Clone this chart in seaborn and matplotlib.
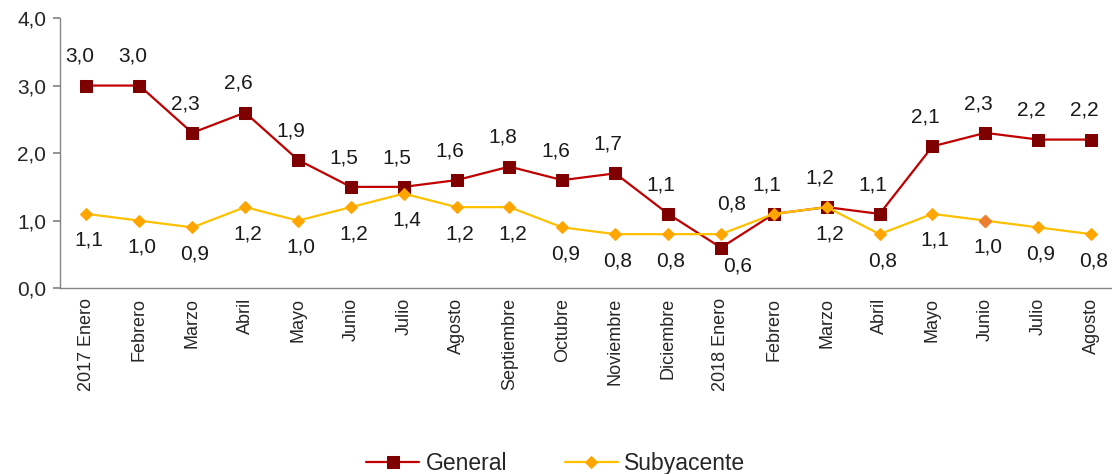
import matplotlib
matplotlib.use("Agg")
import matplotlib.pyplot as plt
import seaborn as sns
import pandas as pd

# Data
months = ["2017 Enero", "Febrero", "Marzo", "Abril", "Mayo", "Junio", "Julio",
          "Agosto", "Septiembre", "Octubre", "Noviembre", "Diciembre",
          "2018 Enero", "Febrero", "Marzo", "Abril", "Mayo", "Junio", "Julio", "Agosto"]
general = [3.0, 3.0, 2.3, 2.6, 1.9, 1.5, 1.5, 1.6, 1.8, 1.6, 1.7, 1.1,
           0.6, 1.1, 1.2, 1.1, 2.1, 2.3, 2.2, 2.2]
subyacente = [1.1, 1.0, 0.9, 1.2, 1.0, 1.2, 1.4, 1.2, 1.2, 0.9, 0.8, 0.8,
              0.8, 1.1, 1.2, 0.8, 1.1, 1.0, 0.9, 0.8]

sns.set_theme(style="white")
plt.rcParams['font.family'] = ['Liberation Sans', 'DejaVu Sans']

df = pd.DataFrame({"x": range(len(months)), "General": general, "Subyacente": subyacente})

fig = plt.figure(figsize=(11.12, 4.74), dpi=100)
ax = fig.add_axes([0.054, 0.392, 0.951, 0.570])

sns.lineplot(data=df, x="x", y="General", ax=ax, color="#c00000", lw=1.6,
             marker="s", markersize=8.5, markerfacecolor="#7f0000",
             markeredgecolor="#7f0000", label="General")
sns.lineplot(data=df, x="x", y="Subyacente", ax=ax, color="#ffc000", lw=1.6,
             marker="D", markersize=6, markerfacecolor="#ffa500",
             markeredgecolor="#ffa500", label="Subyacente")
# one marker drawn in a different orange in the original
ax.plot(17, subyacente[17], marker="D", markersize=6, color="#ed7d31", ls="none")

fmt = lambda v: f"{v:.1f}".replace(".", ",")

# data labels: General above, Subyacente below, with a few exceptions
for i, v in enumerate(general):
    off = (-5, 21)
    if i == 12:
        off = (12, -13)
    ax.annotate(fmt(v), (i, v), xytext=off, textcoords="offset points",
                ha="center", va="center", fontsize=15, color="#1a1a1a")
for i, v in enumerate(subyacente):
    if i == 13:
        continue
    off = (2, -19)
    if i == 12:
        off = (8, 22)
    ax.annotate(fmt(v), (i, v), xytext=off, textcoords="offset points",
                ha="center", va="center", fontsize=15, color="#1a1a1a")

ax.set_xlim(-0.5, len(months) - 0.5)
ax.set_ylim(0, 4)
ax.set_yticks([0, 1, 2, 3, 4])
ax.set_yticklabels([fmt(t) for t in [0, 1, 2, 3, 4]], fontsize=15)
ax.set_xticks(range(len(months)))
ax.set_xticklabels(months, rotation=90, fontsize=13)
ax.set_xticks([i - 0.5 for i in range(len(months) + 1)], minor=True)
ax.tick_params(axis="x", which="major", length=0, pad=7)
ax.tick_params(axis="x", which="minor", length=5, color="#868686", direction="out")
ax.tick_params(axis="y", length=5, color="#868686", direction="out", left=True, pad=5)
ax.set_xlabel("")
ax.set_ylabel("")

for s in ["top", "right"]:
    ax.spines[s].set_visible(False)
for s in ["left", "bottom"]:
    ax.spines[s].set_color("#868686")
    ax.spines[s].set_linewidth(1)

ax.legend_.remove()
handles, labels = ax.get_legend_handles_labels()
fig.legend(handles[:2], labels[:2], loc="lower center", bbox_to_anchor=(0.5, -0.045),
           ncol=2, frameon=False, fontsize=16.5, handlelength=2.3,
           handletextpad=0.3, columnspacing=2.5)

fig.savefig("out.png", dpi=100)
